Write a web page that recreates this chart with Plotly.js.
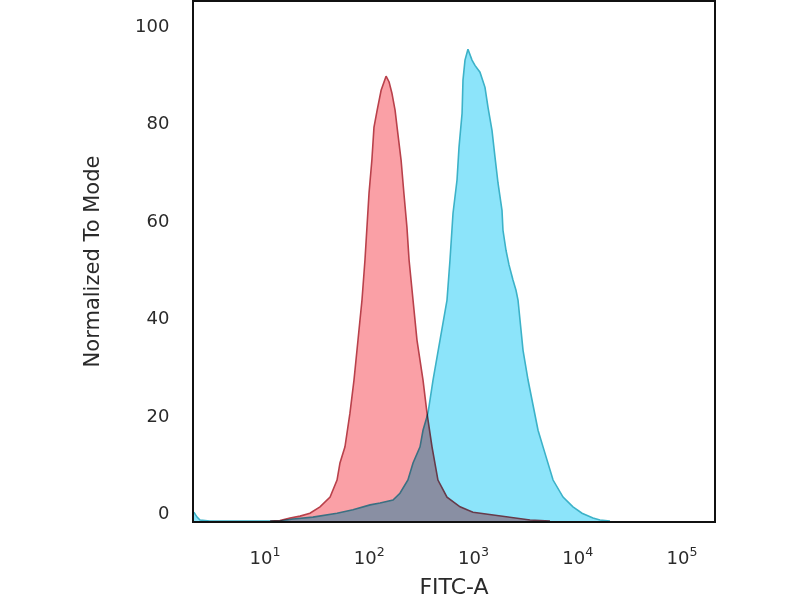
<!DOCTYPE html>
<html>
<head>
<meta charset="utf-8">
<script src="https://cdn.plot.ly/plotly-3.0.1.min.js"></script>
<style>
  html, body { margin: 0; padding: 0; background: #fff; }
  #chart { width: 800px; height: 600px; }
  #chart .scatterlayer .trace { mix-blend-mode: multiply; }
</style>
</head>
<body>
<div id="chart"></div>
<script>
// Control (red) histogram: FITC-A intensity vs normalized-to-mode count
const redX = [11.2, 13.9, 17.4, 21.7, 27.0, 33.7, 42.1, 49.1, 52.4, 58.5, 65.3, 71.4, 78.0, 85.2, 91.0,
  95.1, 99.5, 106, 111, 119, 130, 145, 155, 165, 177, 185, 202, 215, 230, 241, 263, 287, 328, 358, 400,
  428, 456, 557, 743, 989, 1538, 2392, 3486, 5420];
const redY = [0, 0.1, 0.6, 1.0, 1.6, 2.9, 4.9, 8.4, 11.9, 15.2, 22.1, 28.9, 37.1, 45.3, 53.5,
  60.2, 67.2, 74.0, 80.7, 84.2, 88.3, 91.2, 90.0, 87.7, 84.2, 80.7, 74.0, 67.2, 60.2, 53.5, 45.3, 37.1, 28.9, 22.1, 15.2,
  11.9, 8.4, 4.9, 2.9, 1.8, 1.2, 0.6, 0.2, 0];

// Stained (blue) histogram
const blueX = [2.08, 2.23, 2.38, 2.96, 13.9, 18.6, 28.8, 49.1, 69.8, 102, 127, 169, 197, 235, 263,
  307, 328, 366, 409, 478, 557, 595, 622, 636, 695, 726, 777, 793, 829, 885, 968, 1033, 1154, 1289, 1378,
  1505, 1608, 1718, 1877, 1918, 2050, 2191, 2392, 2557, 2673, 2795, 2987, 3336, 3893, 4160, 4646, 5190, 5797,
  7229, 9001, 10990, 14000, 16330, 20370];
const blueY = [1.8, 0.8, 0.2, 0, 0, 0.4, 0.8, 1.6, 2.3, 3.3, 3.7, 4.3, 5.7, 8.4, 11.9,
  15.2, 18.6, 22.1, 28.9, 37.1, 45.3, 53.5, 59.6, 63.1, 69.9, 76.6, 83.6, 90.4, 94.5, 96.7, 94.5, 93.4, 92.0, 88.9, 84.8,
  80.1, 74.6, 69.3, 63.7, 59.6, 55.5, 52.5, 49.4, 47.3, 45.3, 41.2, 35.0, 28.9, 22.1, 18.6, 15.2, 11.9, 8.4,
  4.9, 2.9, 1.6, 0.6, 0.2, 0];

const xTickVals = [10, 100, 1000, 10000, 100000];
const xTickText = ['10<sup>1</sup>', '10<sup>2</sup>', '10<sup>3</sup>', '10<sup>4</sup>', '10<sup>5</sup>'];
const yTickVals = [0, 20, 40, 60, 80, 100];
const yTickText = ['0', '20', '40', '60', '80', '100'];

const traces = [
  {
    x: blueX, y: blueY, type: 'scatter', mode: 'lines', fill: 'tozeroy',
    fillcolor: 'rgb(140,228,250)',
    line: { color: 'rgb(60,178,200)', width: 1.6 },
    hoverinfo: 'skip', showlegend: false
  },
  {
    x: redX, y: redY, type: 'scatter', mode: 'lines', fill: 'tozeroy',
    fillcolor: 'rgb(250,160,166)',
    line: { color: 'rgb(185,65,75)', width: 1.6 },
    hoverinfo: 'skip', showlegend: false
  }
];

const tickFont = { family: 'DejaVu Sans', size: 18, color: '#2a2a2a' };

const layout = {
  width: 800, height: 600,
  margin: { l: 194, r: 86, t: 2, b: 79 },
  paper_bgcolor: '#fff', plot_bgcolor: '#fff',
  showlegend: false,
  xaxis: {
    type: 'log', range: [0.319, 5.307],
    tickvals: xTickVals, ticktext: xTickText,
    ticks: '', showgrid: false, zeroline: false,
    showline: true, linecolor: '#111', linewidth: 2, mirror: true,
    tickfont: tickFont, ticklabelstandoff: 19,
    title: { text: 'FITC-A', font: { family: 'DejaVu Sans', size: 22, color: '#2a2a2a' }, standoff: 12 }
  },
  yaxis: {
    range: [0, 106.4],
    tickvals: yTickVals, ticktext: yTickText,
    ticks: '', showgrid: false, zeroline: false,
    showline: true, linecolor: '#111', linewidth: 2, mirror: true,
    tickfont: tickFont, ticklabelstandoff: 19, ticklabelshift: -8,
    title: { text: 'Normalized To Mode', font: { family: 'DejaVu Sans', size: 21, color: '#2a2a2a' }, standoff: 30 }
  }
};

Plotly.newPlot('chart', traces, layout, { staticPlot: true, displayModeBar: false });
</script>
</body>
</html>
